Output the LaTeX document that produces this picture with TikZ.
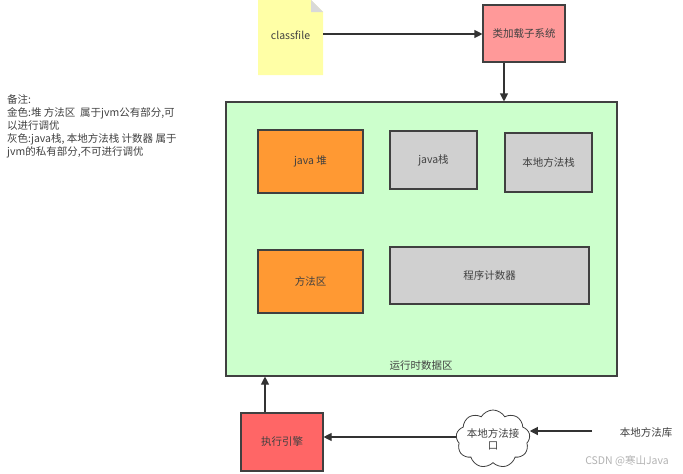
\documentclass[tikz,border=0pt]{standalone}
\usepackage{fontspec}
\setmainfont{Noto Sans CJK SC}
\usetikzlibrary{shapes.symbols, arrows.meta, positioning, calc}
\definecolor{heapcol}{HTML}{FF9933}
\definecolor{privcol}{HTML}{D0D0D0}
\definecolor{areacol}{HTML}{CCFFCC}
\definecolor{loadcol}{HTML}{FF9999}
\definecolor{execcol}{HTML}{FF6666}
\definecolor{notecol}{HTML}{FFFFA6}
\tikzset{
  jvm box/.style={
    rectangle, draw=black!75, line width=1.1pt,
    inner sep=2pt, text centered, text=black!75,
    font=\fontsize{10.5}{12}\selectfont
  },
  jvm heap/.style={jvm box, fill=heapcol},
  jvm private/.style={jvm box, fill=privcol},
  jvm arrow/.style={
    -{Triangle[length=8pt, width=8pt]}, line width=1.1pt, draw=black!80
  },
  jvm text/.style={
    font=\fontsize{10.5}{12}\selectfont, text=black!75, inner sep=1pt
  }
}

\begin{document}
\begin{tikzpicture}[x=1pt, y=-1pt]
  \useasboundingbox (0,0) rectangle (683,474);

  % remark on the left
  \node (remark) [jvm text, anchor=north west, align=left, font=\fontsize{10.5}{13}\selectfont]
    at (6,93) {备注:\\金色:堆 方法区\ \ 属于jvm公有部分,可\\以进行调优\\灰色:java栈, 本地方法栈 计数器 属于\\jvm的私有部分,不可进行调优};

  % class file note
  \fill [notecol] (258,0) -- (311,0) -- (323,12) -- (323,75) -- (258,75) -- cycle;
  \fill [gray!30] (311,0) -- (323,12) -- (311,12) -- cycle;
  \node (cf) [jvm text, minimum width=65pt, minimum height=75pt] at (290.5,35) {classfile};

  \node (loader) [jvm box, fill=loadcol, minimum width=82pt, minimum height=57pt] at (524,33.5) {类加载子系统};

  % runtime data area
  \node (rda) [jvm box, fill=areacol, minimum width=391pt, minimum height=274pt] at (421.5,239) {};
  \node (rdalbl) [jvm text] at (421,366) {运行时数据区};

  \node (heap) [jvm heap, minimum width=105pt, minimum height=63pt] at (310.5,161.5) {java 堆};
  \node (jstack) [jvm private, minimum width=87pt, minimum height=58pt] at (433.5,160) {java栈};
  \node (nstack) [jvm private, minimum width=87pt, minimum height=59pt] at (548.5,162.5) {本地方法栈};
  \node (method) [jvm heap, minimum width=105pt, minimum height=63pt] at (310.5,281.5) {方法区};
  \node (pc) [jvm private, minimum width=199pt, minimum height=57pt] at (489.5,275.5) {程序计数器};

  % bottom row
  \node (engine) [jvm box, fill=execcol, minimum width=82pt, minimum height=58pt] at (282,442) {执行引擎};
  \node (jni) [cloud, cloud puffs=9, cloud puff arc=120, aspect=1.2, draw=black!75, line width=0.8pt,
    fill=white, minimum width=74pt, minimum height=58pt, inner sep=0pt] at (493,439) {};
  \node (jnilbl) [jvm text, align=center] at (jni.center) {本地方法接\\口};
  \node (nlib) [jvm text] at (646,432) {本地方法库};
  \node (mark) [jvm text, text=black!30] at (627,461) {CSDN @寒山Java};

  \coordinate (libend) at (592,431);

  \draw [jvm arrow] (cf.east |- 0,34) -- (loader.west |- 0,34);
  \draw [jvm arrow] (loader.south -| 504,0) -- (rda.north -| 504,0);
  \draw [jvm arrow] (engine.north -| 265,0) -- (rda.south -| 265,0);
  \draw [jvm arrow] (jni.west |- 0,437) -- (engine.east |- 0,437);
  \draw [jvm arrow] (libend) -- (jni.east |- libend);
\end{tikzpicture}
\end{document}
